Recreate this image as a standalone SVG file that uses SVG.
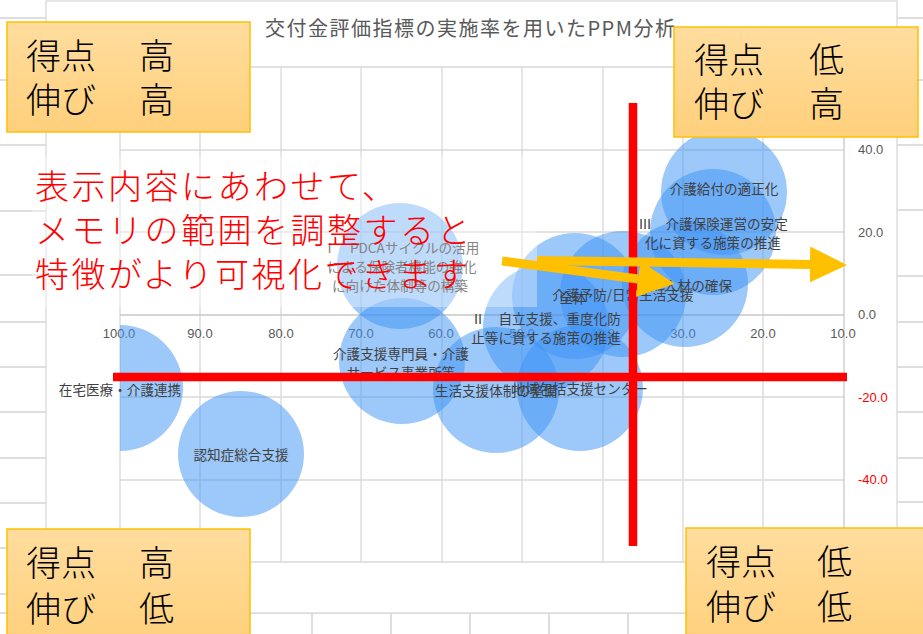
<svg xmlns="http://www.w3.org/2000/svg" width="923" height="634" viewBox="0 0 923 634">
<defs>
<style>
.cell{stroke:#d4d4d4;stroke-width:1.5}
.grid{stroke:#d9d9d9;stroke-width:1.3}
.axl{stroke:#c8c8c8;stroke-width:1.3}
.bub{fill:#3c92f5;fill-opacity:0.5}
.lbl{font-family:"Noto Sans CJK JP","Noto Sans",sans-serif;font-size:13.6px;fill:#404040;text-anchor:middle;dominant-baseline:central}
.ax{font-family:"Liberation Sans","Noto Sans",sans-serif;font-size:13px;fill:#595959;dominant-baseline:central}
.xl{text-anchor:middle}
.neg{fill:#ff0000}
.quad rect{fill:url(#og);stroke:#ffc000;stroke-width:1.5}
.qt{font-family:"Noto Sans CJK JP",sans-serif;font-size:35px;font-weight:300;fill:#000;dominant-baseline:central}
.memo{font-family:"Noto Sans CJK JP",sans-serif;font-size:34px;font-weight:300;fill:#ff0000;letter-spacing:2.5px;dominant-baseline:central}
.red{stroke:#ff0000;stroke-width:8.5}
.arr{stroke:#ffc000;stroke-width:9;fill:none;marker-end:url(#ah)}
</style>
<linearGradient id="og" x1="0" y1="0" x2="0" y2="1">
<stop offset="0" stop-color="#ffdd9e"/>
<stop offset="1" stop-color="#ffd07c"/>
</linearGradient>
<marker id="ah" markerUnits="userSpaceOnUse" markerWidth="37" markerHeight="36" refX="0" refY="18" orient="auto">
<path d="M0,0 L37,18 L0,36 Z" fill="#ffc000"/>
</marker>
<clipPath id="plot"><rect x="120" y="67" width="724" height="495"/></clipPath>
</defs>

<rect x="0" y="0" width="923" height="634" fill="#ffffff"/>

<g id="sheet">
<path class="cell" d="M0,18H46M0,80H46M0,145H46M0,211H46M0,275H46M0,322H46M0,367H46M0,412H46M0,458H46M0,503H46M0,548H46M0,594H46"/>
<path class="cell" d="M897,18H923M897,80H923M897,145H923M897,210H923M897,276H923M897,322H923M897,367H923M897,412H923M897,458H923M897,502H923M897,548H923M897,594H923"/>
<path class="cell" d="M0,613H923M312,613V634M391,613V634M470,613V634M549,613V634M628,613V634M707,613V634M786,613V634M865,613V634"/>
</g>

<g id="chart">
<rect x="46" y="1" width="851" height="612" fill="#ffffff" stroke="#d9d9d9" stroke-width="1.3"/>
<text x="470" y="27" text-anchor="middle" textLength="410" lengthAdjust="spacing" font-family="'Noto Sans CJK JP','Noto Sans',sans-serif" font-size="20" fill="#595959" dominant-baseline="central">交付金評価指標の実施率を用いたPPM分析</text>
<g id="gridlines">
<path class="grid" d="M120,67H844M120,150H844M120,232H844M120,397H844M120,480H844M120,562H844"/>
<path class="grid" d="M120,67V562M200,67V562M281,67V562M361,67V562M442,67V562M522,67V562M603,67V562M683,67V562M763,67V562"/>
<path class="axl" d="M120,315H844M844,67V562"/>
</g>
<g id="x-axis-labels" class="ax xl">
<text x="119" y="333">100.0</text>
<text x="200" y="333">90.0</text>
<text x="281" y="333">80.0</text>
<text x="361" y="333">70.0</text>
<text x="441" y="333">60.0</text>
<text x="522" y="333">50.0</text>
<text x="602" y="333">40.0</text>
<text x="683" y="333">30.0</text>
<text x="763" y="333">20.0</text>
<text x="843" y="333">10.0</text>
</g>
<g id="y-axis-labels" class="ax">
<text x="858" y="149">40.0</text>
<text x="858" y="232">20.0</text>
<text x="858" y="314">0.0</text>
<text class="neg" x="858" y="397">-20.0</text>
<text class="neg" x="858" y="479">-40.0</text>
</g>
</g>

<g id="bubbles" clip-path="url(#plot)">
<circle id="b-zaitaku" class="bub" cx="120" cy="388" r="63"/>
<circle id="b-ninchi" class="bub" cx="241" cy="454" r="63"/>
<circle id="b-pdca" class="bub" cx="400" cy="266" r="63"/>
<circle id="b-senmon" class="bub" cx="402" cy="361" r="63"/>
<circle id="b-seikatsu" class="bub" cx="496" cy="390" r="63"/>
<circle id="b-houkatsu" class="bub" cx="580" cy="388" r="63"/>
<circle id="b-jiritsu" class="bub" cx="546" cy="327" r="63"/>
<circle id="b-zentai" class="bub" cx="575" cy="296" r="63"/>
<circle id="b-yobou" class="bub" cx="623" cy="294" r="63"/>
<circle id="b-jinzai" class="bub" cx="685" cy="284" r="63"/>
<circle id="b-unei" class="bub" cx="713" cy="232" r="63"/>
<circle id="b-kyufu" class="bub" cx="724" cy="192" r="63"/>
</g>

<g id="bubble-labels" class="lbl">
<text x="120" y="389">在宅医療・介護連携</text>
<text x="241" y="454">認知症総合支援</text>
<text x="401" y="247">Ⅰ　PDCAサイクルの活用</text>
<text x="402" y="266">による保険者機能の強化</text>
<text x="400" y="285">に向けた体制等の構築</text>
<text x="401" y="353">介護支援専門員・介護</text>
<text x="401" y="372">サービス事業所等</text>
<text x="496" y="390">生活支援体制の整備</text>
<text x="580" y="388">地域包括支援センター</text>
<text x="546" y="318">Ⅱ　自立支援、重度化防</text>
<text x="546" y="337">止等に資する施策の推進</text>
<text x="573" y="297">全体</text>
<text x="623" y="294">介護予防/日常生活支援</text>
<text x="698" y="285">人材の確保</text>
<text x="713" y="223">Ⅲ　介護保険運営の安定</text>
<text x="713" y="242">化に資する施策の推進</text>
<text x="724" y="188">介護給付の適正化</text>
</g>

<g id="divider-lines">
<line class="red" x1="633" y1="103" x2="633" y2="546"/>
<line class="red" x1="113" y1="377" x2="847" y2="377"/>
</g>

<g id="memo">
<rect x="32" y="157" width="505" height="150" fill="#ffffff" fill-opacity="0.35"/>
<text class="memo" x="35" y="184">表示内容にあわせて、</text>
<text class="memo" x="35" y="228">メモリの範囲を調整すると</text>
<text class="memo" x="35" y="272">特徴がより可視化できます</text>
</g>

<g id="connectors">
<line class="arr" x1="502" y1="261" x2="638" y2="279"/>
<line class="arr" x1="537" y1="260.5" x2="810" y2="264.5"/>
</g>

<g id="q-tl" class="quad">
<rect x="7" y="22" width="243" height="110"/>
<text class="qt" x="26" y="53">得点<tspan x="104">　高</tspan></text>
<text class="qt" x="26" y="97">伸び<tspan x="104">　高</tspan></text>
</g>
<g id="q-tr" class="quad">
<rect x="674" y="27" width="244" height="110"/>
<text class="qt" x="694" y="57">得点<tspan x="774">　低</tspan></text>
<text class="qt" x="694" y="101">伸び<tspan x="774">　高</tspan></text>
</g>
<g id="q-bl" class="quad">
<rect x="7" y="529" width="243" height="115"/>
<text class="qt" x="26" y="560">得点<tspan x="104">　高</tspan></text>
<text class="qt" x="26" y="606">伸び<tspan x="104">　低</tspan></text>
</g>
<g id="q-br" class="quad">
<rect x="686" y="528" width="250" height="116"/>
<text class="qt" x="706" y="559">得点<tspan x="782">　低</tspan></text>
<text class="qt" x="706" y="604">伸び<tspan x="782">　低</tspan></text>
</g>
</svg>
